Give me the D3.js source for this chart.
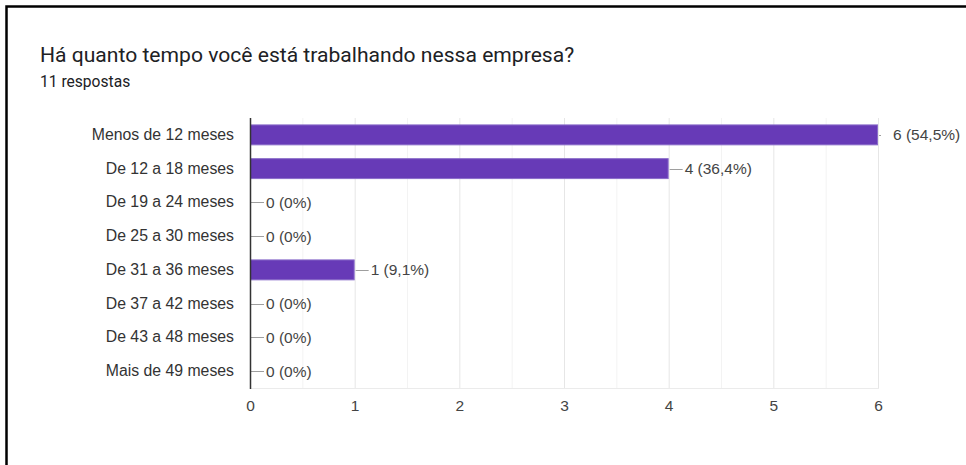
<!DOCTYPE html>
<html>
<head>
<meta charset="utf-8">
<script src="https://cdn.jsdelivr.net/npm/d3@7"></script>
<style>
  html, body { margin: 0; padding: 0; background: #fff; }
  svg { display: block; }
</style>
</head>
<body>
<svg id="chart" width="966" height="465"></svg>
<script>
const title = "Há quanto tempo você está trabalhando nessa empresa?";
const subtitle = "11 respostas";
const categories = ["Menos de 12 meses", "De 12 a 18 meses", "De 19 a 24 meses", "De 25 a 30 meses",
                    "De 31 a 36 meses", "De 37 a 42 meses", "De 43 a 48 meses", "Mais de 49 meses"];
const counts = [6, 4, 0, 0, 1, 0, 0, 0];
const valueLabels = ["6 (54,5%)", "4 (36,4%)", "0 (0%)", "0 (0%)", "1 (9,1%)", "0 (0%)", "0 (0%)", "0 (0%)"];
const xTicks = [0, 1, 2, 3, 4, 5, 6];

const svg = d3.select("#chart");
const W = 966, H = 465;
const plot = { left: 250, right: 878, top: 118, bottom: 388 };
const sans = "'Liberation Sans', Arial, sans-serif";
const roboto = "Roboto, 'Liberation Sans', sans-serif";

// frame (black border top & left)
svg.append("path")
  .attr("d", `M6.5,${H} L6.5,6.5 L${W},6.5`)
  .attr("fill", "none").attr("stroke", "#000").attr("stroke-width", 2.5);

// title
svg.append("text").attr("x", 40).attr("y", 62)
  .attr("font-family", roboto).attr("font-size", 21.1).attr("fill", "#202124")
  .text(title);
svg.append("text").attr("x", 40).attr("y", 87)
  .attr("font-family", roboto).attr("font-size", 15.6).attr("fill", "#202124")
  .text(subtitle);

const x = d3.scaleLinear().domain([0, 6]).range([plot.left, plot.right]);
const y = d3.scaleBand().domain(categories).range([plot.top, plot.bottom])
  .paddingInner(0.38).paddingOuter(0.19);

// minor gridlines
const minor = d3.range(0.5, 6, 1);
svg.append("g").selectAll("line").data(minor).join("line")
  .attr("x1", d => x(d) + 0.5).attr("x2", d => x(d) + 0.5)
  .attr("y1", plot.top).attr("y2", plot.bottom)
  .attr("stroke", "#f3f3f3").attr("stroke-width", 1);
// major gridlines
svg.append("g").selectAll("line").data(xTicks.slice(1)).join("line")
  .attr("x1", d => x(d) + 0.5).attr("x2", d => x(d) + 0.5)
  .attr("y1", plot.top).attr("y2", plot.bottom)
  .attr("stroke", "#e6e6e6").attr("stroke-width", 1);
// bottom line
svg.append("line")
  .attr("x1", plot.left).attr("x2", plot.right + 1)
  .attr("y1", plot.bottom + 0.5).attr("y2", plot.bottom + 0.5)
  .attr("stroke", "#ebebeb");

// x axis labels
const xAxis = d3.axisBottom(x).tickValues(xTicks).tickFormat(d3.format("d")).tickSize(0).tickPadding(12);
const gx = svg.append("g").attr("transform", `translate(0,${plot.bottom})`).call(xAxis);
gx.select(".domain").remove();
gx.selectAll("text").attr("font-family", sans).attr("font-size", 15.5).attr("fill", "#444");

// y axis labels
const yAxis = d3.axisLeft(y).tickSize(0).tickPadding(16);
const gy = svg.append("g").attr("transform", `translate(${plot.left},0)`).call(yAxis);
gy.select(".domain").remove();
gy.selectAll("text").attr("font-family", sans).attr("font-size", 15.8).attr("fill", "#333");

// bars
svg.append("g").selectAll("rect").data(counts).join("rect")
  .attr("x", x(0) + 0.5)
  .attr("y", (d, i) => y(categories[i]) + 0.5)
  .attr("width", d => Math.max(0, x(d) - x(0) - 1))
  .attr("height", y.bandwidth() - 1)
  .attr("fill", d => d > 0 ? "#673ab7" : "none")
  .attr("stroke", d => d > 0 ? "#8a6cc9" : "none")
  .attr("stroke-width", 1);

// leader lines + value labels
const lab = svg.append("g");
counts.forEach((d, i) => {
  const cy = y(categories[i]) + y.bandwidth() / 2;
  const isMax = d === d3.max(counts);
  const stemEnd = isMax ? x(d) + 3 : x(d) + 14;
  const textX = isMax ? x(d) + 15 : x(d) + 16;
  lab.append("line")
    .attr("x1", x(d) + 1).attr("x2", stemEnd)
    .attr("y1", Math.round(cy) + 0.5).attr("y2", Math.round(cy) + 0.5)
    .attr("stroke", "#9e9e9e").attr("stroke-width", 1);
  lab.append("text").attr("x", textX).attr("y", cy).attr("dy", "0.35em")
    .attr("font-family", sans).attr("font-size", 15.5).attr("fill", "#444")
    .text(valueLabels[i]);
});

// zero axis line
svg.append("line")
  .attr("x1", x(0) + 0.5).attr("x2", x(0) + 0.5)
  .attr("y1", plot.top).attr("y2", plot.bottom + 1)
  .attr("stroke", "#333").attr("stroke-width", 1.5);
</script>
</body>
</html>
